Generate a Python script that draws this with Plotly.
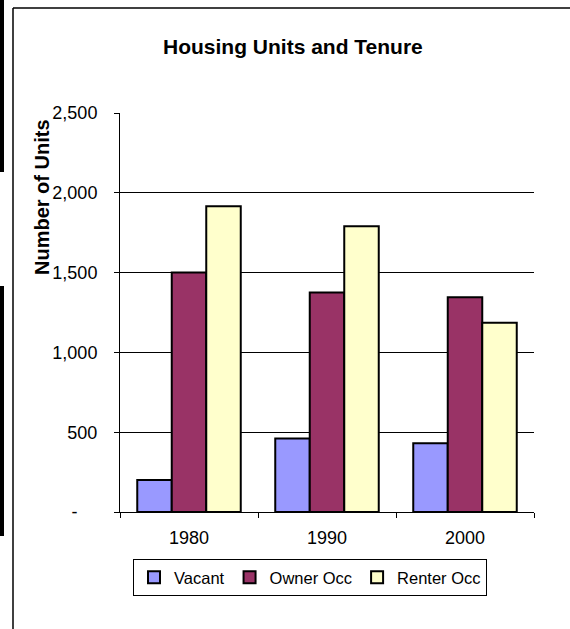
import plotly.graph_objects as go

years = ["1980", "1990", "2000"]
vacant = [200, 460, 430]
owner_occ = [1500, 1375, 1345]
renter_occ = [1915, 1790, 1185]
y_tickvals = [0, 500, 1000, 1500, 2000, 2500]
y_ticktext = ["-\u00a0\u00a0\u00a0\u00a0", "500", "1,000", "1,500", "2,000", "2,500"]

W, H = 570, 629
L, R, T, B = 120, 534, 113, 512  # plot area in pixels

def px(x):
    return (x - L) / (R - L)

def py(y):
    return (B - y) / (B - T)

FONT = "Liberation Sans, Arial, sans-serif"

fig = go.Figure()
for name, vals, col in [("Vacant", vacant, "#9999FF"),
                        ("Owner Occ", owner_occ, "#993366"),
                        ("Renter Occ", renter_occ, "#FFFFCC")]:
    fig.add_trace(go.Bar(x=years, y=vals, name=name,
                         marker=dict(color=col, line=dict(color="black", width=2))))

shapes = [
    # outer frame (left and top edges visible)
    dict(type="line", xref="paper", yref="paper", x0=px(13), x1=px(572), y0=py(8), y1=py(8),
         line=dict(color="black", width=1.5)),
    dict(type="line", xref="paper", yref="paper", x0=px(13), x1=px(13), y0=py(8), y1=py(640),
         line=dict(color="black", width=1.5)),
    # black strips at left edge
    dict(type="rect", xref="paper", yref="paper", x0=px(-2), x1=px(4), y0=py(-2), y1=py(172),
         fillcolor="black", line=dict(width=0)),
    dict(type="rect", xref="paper", yref="paper", x0=px(-2), x1=px(4), y0=py(286), y1=py(536),
         fillcolor="black", line=dict(width=0)),
]

annotations = [
    dict(text="<b>Housing Units and Tenure</b>", xref="paper", yref="paper",
         x=px(293), y=py(47), xanchor="center", yanchor="middle", showarrow=False,
         font=dict(family=FONT, size=21, color="black")),
    dict(text="<b>Number of Units</b>", xref="paper", yref="paper",
         x=px(42), y=py(197), xanchor="center", yanchor="middle", showarrow=False,
         textangle=-90, font=dict(family=FONT, size=20, color="black")),
]

fig.update_layout(
    width=W, height=H,
    margin=dict(l=L, r=W - R, t=T, b=H - B, autoexpand=False),
    paper_bgcolor="white", plot_bgcolor="white",
    font=dict(family=FONT, size=18, color="black"),
    barmode="group", bargap=0.25, bargroupgap=0,
    showlegend=True,
    legend=dict(orientation="h", x=px(310), y=py(559), xanchor="center", yanchor="top",
                bordercolor="black", borderwidth=1, bgcolor="white",
                font=dict(family=FONT, size=16.5, color="black"),
                itemwidth=30, tracegroupgap=0),
    shapes=shapes,
    annotations=annotations,
)

fig.update_xaxes(type="category", showline=True, linecolor="black", linewidth=1,
                 ticks="outside", ticklen=5, tickcolor="black", tickson="boundaries",
                 showgrid=False, tickfont=dict(size=18), ticklabelstandoff=9)
fig.update_yaxes(range=[0, 2500], tickvals=y_tickvals, ticktext=y_ticktext,
                 showline=True, linecolor="black", linewidth=1,
                 ticks="outside", ticklen=5, tickcolor="black",
                 showgrid=True, gridcolor="black", gridwidth=1, zeroline=False,
                 tickfont=dict(size=18), ticklabelstandoff=13)

fig.write_html("out.html", config={"displayModeBar": False},
               post_script="document.body.style.margin='0';")
